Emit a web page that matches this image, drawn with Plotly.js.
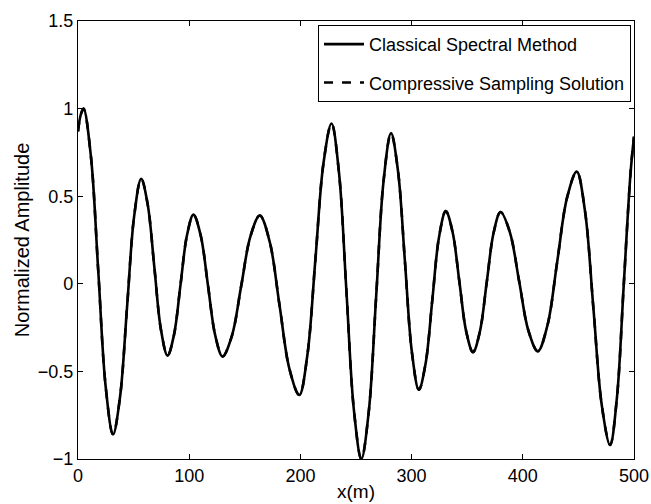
<!DOCTYPE html>
<html>
<head>
<meta charset="utf-8">
<script src="https://cdn.plot.ly/plotly-3.0.1.min.js"></script>
<style>html,body{margin:0;padding:0;background:#fff;}#chart{width:651px;height:504px;}</style>
</head>
<body>
<div id="chart"></div>
<script>
// Positions along the line (m)
var xPos = [0, 2.5, 5, 11.6, 18.25, 24.9, 31.5, 37.8, 44.15, 50.5, 56.8, 62.7, 68.65, 74.6, 80.5, 86.3, 92.15, 98.0, 103.8, 110.35, 116.9, 123.45, 130, 138.4, 146.75, 155.1, 163.5, 172.4, 181.25, 190.1, 199, 206.25, 213.5, 220.75, 228, 234.7, 241.4, 248.1, 254.8, 261.5, 268.15, 274.8, 281.5, 287.75, 294, 300.25, 306.5, 312.55, 318.6, 324.65, 330.7, 336.8, 342.95, 349.1, 355.2, 361.4, 367.6, 373.8, 380, 388.4, 396.75, 405.1, 413.5, 422.25, 431, 439.75, 448.5, 456, 463.5, 471, 478.5, 484.6, 490.75, 496.9, 500];
// Classical spectral method, normalized amplitude
var classicalAmp = [0.87, 0.965, 1.0, 0.728, 0.07, -0.588, -0.86, -0.646, -0.13, 0.386, 0.60, 0.452, 0.095, -0.262, -0.41, -0.292, -0.008, 0.277, 0.395, 0.276, -0.01, -0.296, -0.415, -0.297, -0.013, 0.272, 0.39, 0.24, -0.123, -0.485, -0.635, -0.408, 0.14, 0.688, 0.915, 0.634, -0.043, -0.72, -1.0, -0.728, -0.07, 0.588, 0.86, 0.645, 0.128, -0.39, -0.605, -0.456, -0.095, 0.266, 0.415, 0.297, 0.013, -0.272, -0.39, -0.273, 0.01, 0.293, 0.41, 0.294, 0.013, -0.269, -0.385, -0.235, 0.128, 0.49, 0.64, 0.412, -0.14, -0.692, -0.92, -0.653, -0.01, 0.633, 0.84];
// Compressive sampling solution (coincides with the classical curve)
var compressiveAmp = [0.87, 0.965, 1.0, 0.728, 0.07, -0.588, -0.86, -0.646, -0.13, 0.386, 0.60, 0.452, 0.095, -0.262, -0.41, -0.292, -0.008, 0.277, 0.395, 0.276, -0.01, -0.296, -0.415, -0.297, -0.013, 0.272, 0.39, 0.24, -0.123, -0.485, -0.635, -0.408, 0.14, 0.688, 0.915, 0.634, -0.043, -0.72, -1.0, -0.728, -0.07, 0.588, 0.86, 0.645, 0.128, -0.39, -0.605, -0.456, -0.095, 0.266, 0.415, 0.297, 0.013, -0.272, -0.39, -0.273, 0.01, 0.293, 0.41, 0.294, 0.013, -0.269, -0.385, -0.235, 0.128, 0.49, 0.64, 0.412, -0.14, -0.692, -0.92, -0.653, -0.01, 0.633, 0.84];
var seriesNames = ['Classical Spectral Method', 'Compressive Sampling Solution'];
var xTicks = [0, 100, 200, 300, 400, 500];
var yTicks = [-1, -0.5, 0, 0.5, 1, 1.5];
var yTickText = ['\u22121', '\u22120.5', '0', '0.5', '1', '1.5'];

var FONT = 'Liberation Sans, Arial, Helvetica, sans-serif';

var traces = [
  {x: xPos, y: classicalAmp, name: seriesNames[0], type: 'scatter', mode: 'lines',
   line: {color: '#000', width: 2.6, shape: 'spline', smoothing: 1.0}, legendgroup: 'a'},
  {x: xPos, y: compressiveAmp, name: seriesNames[1], type: 'scatter', mode: 'lines',
   line: {color: '#000', width: 2.6, dash: 'dash', shape: 'spline', smoothing: 1.0}, legendgroup: 'b'}
];

var axisCommon = {
  showgrid: false, zeroline: false, showline: true, linecolor: '#000', linewidth: 1.2,
  mirror: 'ticks', ticks: 'inside', ticklen: 5, tickwidth: 1, tickcolor: '#000',
  tickfont: {family: FONT, size: 18, color: '#000'}
};

var layout = {
  width: 651, height: 504,
  margin: {l: 78, r: 17, t: 21, b: 45},
  paper_bgcolor: '#fff', plot_bgcolor: '#fff',
  showlegend: true,
  legend: {
    x: 0.9946, xanchor: 'right', y: 0.991, yanchor: 'top',
    bordercolor: '#000', borderwidth: 1, bgcolor: '#fff',
    font: {family: FONT, size: 18, color: '#000'},
    tracegroupgap: 12, itemwidth: 40
  },
  xaxis: Object.assign({}, axisCommon, {
    range: [0, 500], tickvals: xTicks, ticktext: xTicks.map(String),
    title: {text: 'x(m)', font: {family: FONT, size: 19, color: '#000'}, standoff: 0}
  }),
  yaxis: Object.assign({}, axisCommon, {
    range: [-1, 1.5], tickvals: yTicks, ticktext: yTickText,
    title: {text: 'Normalized Amplitude', font: {family: FONT, size: 20, color: '#000'}, standoff: 2}
  })
};

Plotly.newPlot('chart', traces, layout, {displayModeBar: false, staticPlot: true});
</script>
</body>
</html>
